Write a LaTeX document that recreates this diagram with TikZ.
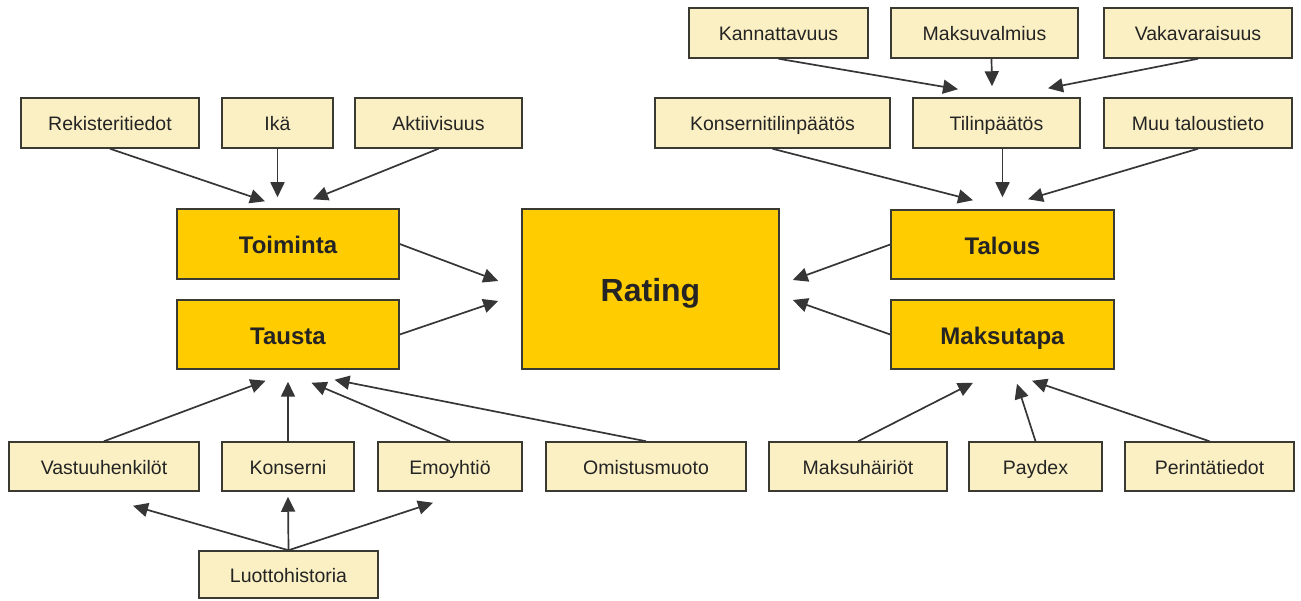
\documentclass[tikz,border=0pt]{standalone}
\usepackage{fontspec}
\setmainfont{Liberation Sans}
\usetikzlibrary{arrows.meta}
\definecolor{paleyellow}{HTML}{FBF0C3}
\definecolor{gold}{HTML}{FFCC00}
\definecolor{edge}{HTML}{3A3A32}
\definecolor{ink}{HTML}{242424}
\definecolor{wire}{HTML}{363636}
\begin{document}
\begin{tikzpicture}[x=1pt,y=-1pt,
  wh/.style 2 args={minimum width=#1pt, minimum height=#2pt},
  lite/.style={draw=edge, line width=1.5pt, fill=paleyellow, inner sep=0pt,
    text=ink, font=\fontsize{19.5}{22}\selectfont, text height=16pt, text depth=0pt},
  core/.style={draw=edge, line width=1.5pt, fill=gold, inner sep=0pt,
    text=ink, font=\fontsize{24}{28}\selectfont\bfseries, text height=20pt, text depth=0pt},
  arr/.style={draw=wire, line width=1.7pt, -{Triangle[length=15pt,width=14pt]}}]
\useasboundingbox (0,0) rectangle (1301,601);

% background inputs
\node[lite, wh={178}{50}] (rek) at (110,123) {Rekisteritiedot};
\node[lite, wh={111}{50}] (ika) at (277.5,123) {Ikä};
\node[lite, wh={167}{50}] (akt) at (438.5,123) {Aktiivisuus};
\node[core, wh={222}{70}] (toim) at (288,244) {Toiminta};
\node[core, wh={222}{69}] (taus) at (288,334.5) {Tausta};
\node[lite, wh={190}{49}] (vast) at (104,466.5) {Vastuuhenkilöt};
\node[lite, wh={132}{49}] (kons) at (288,466.5) {Konserni};
\node[lite, wh={144}{49}] (emo) at (450,466.5) {Emoyhtiö};
\node[lite, wh={200}{49}] (omis) at (646,466.5) {Omistusmuoto};
\node[lite, wh={179}{47}] (luot) at (288.5,574.5) {Luottohistoria};

% central score
\node[core, wh={257}{160}, font=\fontsize{32}{36}\selectfont\bfseries, text height=26pt] (rating) at (650.5,289) {Rating};

% financial inputs
\node[lite, wh={179}{50}] (kann) at (778.5,33) {Kannattavuus};
\node[lite, wh={187}{50}] (mval) at (984.5,33) {Maksuvalmius};
\node[lite, wh={188}{50}] (vaka) at (1198,33) {Vakavaraisuus};
\node[lite, wh={235}{50}] (ktp) at (772.5,123) {Konsernitilinpäätös};
\node[lite, wh={167}{50}] (tilp) at (996.5,123) {Tilinpäätös};
\node[lite, wh={188}{50}] (muu) at (1198,123) {Muu taloustieto};
\node[core, wh={223}{69}] (talo) at (1002.5,244.5) {Talous};
\node[core, wh={223}{69}] (mtapa) at (1002.5,334.5) {Maksutapa};
\node[lite, wh={178}{49}] (mhai) at (858,466.5) {Maksuhäiriöt};
\node[lite, wh={133}{49}] (payd) at (1035.5,466.5) {Paydex};
\node[lite, wh={169}{49}] (peri) at (1209.5,466.5) {Perintätiedot};

% into Toiminta
\draw[arr] (rek.south) -- ([shift={(-23,-7)}]toim.north);
\draw[arr] (ika.south) -- ([shift={(-10.5,-11)}]toim.north);
\draw[arr] (akt.south) -- ([shift={(25,-9)}]toim.north);
% into Rating from the left
\draw[arr] (toim.east) -- ([shift={(-23,-8)}]rating.west);
\draw[arr] (taus.east) -- ([shift={(-23,12)}]rating.west);
% into Tausta
\draw[arr] (vast.north) -- ([shift={(-22.5,11)}]taus.south);
\draw[arr] (kons.north) -- ([shift={(0,12)}]taus.south);
\draw[arr] (emo.north) -- ([shift={(23.5,13)}]taus.south);
\draw[arr] (omis.north) -- ([shift={(46.5,10)}]taus.south);
% from Luottohistoria
\draw[arr] (luot.north) -- ([shift={(29,14)}]vast.south);
\draw[arr] (luot.north) -- ([shift={(0,5)}]kons.south);
\draw[arr] (luot.north) -- ([shift={(-17,11)}]emo.south);

% into Tilinpäätös
\draw[arr] (kann.south) -- ([shift={(-38.5,-8)}]tilp.north);
\draw[arr] ([shift={(7,0)}]mval.south) -- ([shift={(-4.5,-11)}]tilp.north);
\draw[arr] (vaka.south) -- ([shift={(51.5,-9)}]tilp.north);
% into Talous
\draw[arr] (ktp.south) -- ([shift={(-29.5,-9)}]talo.north);
\draw[arr] ([shift={(6,0)}]tilp.south) -- ([shift={(0,-12)}]talo.north);
\draw[arr] (muu.south) -- ([shift={(25.5,-10)}]talo.north);
% into Rating from the right
\draw[arr] (talo.west) -- ([shift={(13,-9)}]rating.east);
\draw[arr] (mtapa.west) -- ([shift={(13,11)}]rating.east);
% into Maksutapa
\draw[arr] (mhai.north) -- ([shift={(-29.5,13)}]mtapa.south);
\draw[arr] (payd.north) -- ([shift={(14.5,14)}]mtapa.south);
\draw[arr] (peri.north) -- ([shift={(29.5,11)}]mtapa.south);
\end{tikzpicture}
\end{document}
